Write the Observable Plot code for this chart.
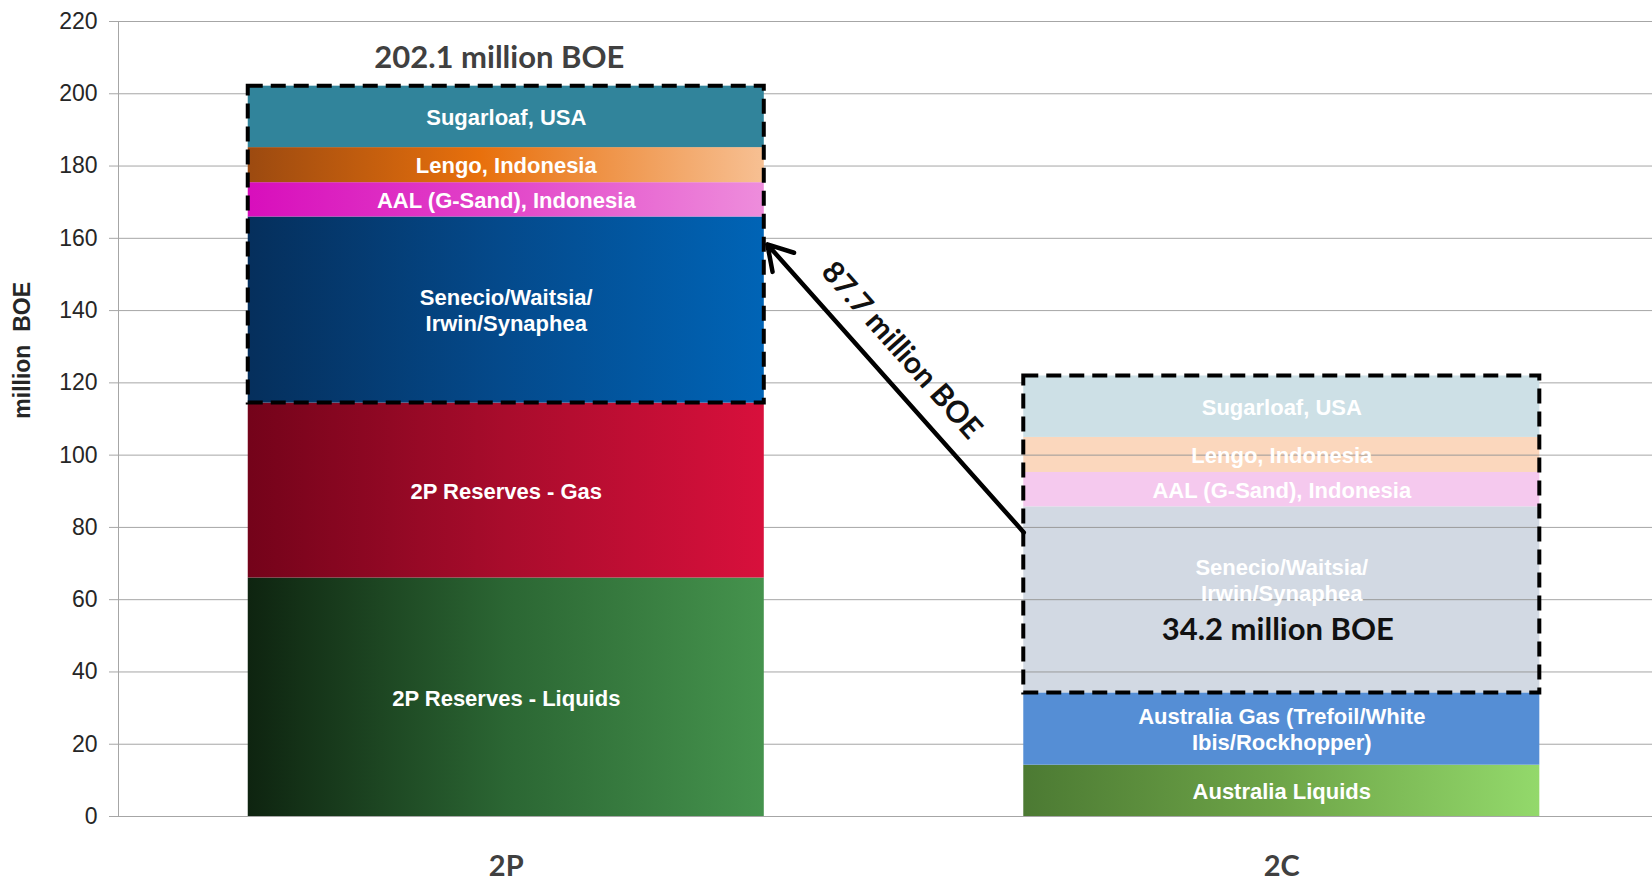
<!DOCTYPE html>
<html>
<head>
<meta charset="utf-8">
<script src="https://cdn.jsdelivr.net/npm/d3@7"></script>
<script src="https://cdn.jsdelivr.net/npm/@observablehq/plot@0.6"></script>
<style>
  html, body { margin: 0; padding: 0; background: #fff; }
  #chart svg { display: block; }
  #chart text { white-space: pre; }
</style>
</head>
<body>
<div id="chart"></div>
<script>
// Reserves (2P) and contingent resources (2C), million BOE, stacked bottom to top
const categories = ["2P", "2C"];

const labels2P = [
  "2P Reserves - Liquids",
  "2P Reserves - Gas",
  "Senecio/Waitsia/\nIrwin/Synaphea",
  "AAL (G-Sand), Indonesia",
  "Lengo, Indonesia",
  "Sugarloaf, USA"
];
const values2P = [66.0, 48.4, 51.5, 9.5, 9.7, 17.0];

const labels2C = [
  "Australia Liquids",
  "Australia Gas (Trefoil/White\nIbis/Rockhopper)",
  "Senecio/Waitsia/\nIrwin/Synaphea",
  "AAL (G-Sand), Indonesia",
  "Lengo, Indonesia",
  "Sugarloaf, USA"
];
const values2C = [14.2, 20.0, 51.5, 9.5, 9.7, 17.0];

// the top four segments of each bar are the volumes moved from 2C into 2P
const convertedCount = 4;

const yTicks = [0, 20, 40, 60, 80, 100, 120, 140, 160, 180, 200, 220];

// segment fills (gradients are defined below and attached to the svg)
const fills2P = ["url(#g-liq2p)", "url(#g-gas2p)", "url(#g-sen)", "url(#g-aal)", "url(#g-lengo)", "#31849b"];
const fills2C = ["url(#g-liq2c)", "#558ed5", "#d2d9e3", "#f5c9ee", "#fbd7bd", "#cde0e6"];
// label lift (in million BOE) so the faded Senecio label clears the 2C total
const labelLift2C = [0, 0, 5.6, 0, 0, 0];

const halfWidth = 0.3327;   // half bar width in x units (bars centred on 0 and 1)

function stackBar(pos, labels, values, fills, lifts) {
  let y = 0;
  return values.map((v, i) => {
    const seg = {pos, label: labels[i], y1: y, y2: y + v, fill: fills[i], lift: lifts ? lifts[i] : 0};
    y += v;
    return seg;
  });
}

const seg2P = stackBar(0, labels2P, values2P, fills2P);
const seg2C = stackBar(1, labels2C, values2C, fills2C, labelLift2C);
const segments = [...seg2P, ...seg2C];

const converted = d3.sum(values2P.slice(-convertedCount));
const total2P = d3.sum(values2P);
const remaining2C = d3.sum(values2C.slice(0, values2C.length - convertedCount));

const boxes = [
  {pos: 0, y1: total2P - converted, y2: total2P},
  {pos: 1, y1: remaining2C, y2: remaining2C + converted}
];

// arrow from the 2C box to the 2P box
const arrowSpec = [{x1: 1 - halfWidth, y1: 78.6, x2: halfWidth + 0.004, y2: 158.3}];
const arrowMid = {x: (arrowSpec[0].x1 + arrowSpec[0].x2) / 2, y: (arrowSpec[0].y1 + arrowSpec[0].y2) / 2};

const fmt = v => `${v.toFixed(1)} million BOE`;
const sansBold = "Lato, 'Open Sans', sans-serif";
const arial = "'Liberation Sans', Arial, sans-serif";

const chart = Plot.plot({
  width: 1652,
  height: 881,
  marginTop: 21,
  marginBottom: 65,
  marginLeft: 118,
  marginRight: 0,
  x: {domain: [-0.5, 1.478], axis: null},
  y: {domain: [0, 220], axis: null},
  color: {type: "identity"},
  style: {fontFamily: arial, background: "#fff"},
  marks: [
    Plot.ruleY(yTicks, {stroke: "#a6a6a6", strokeWidth: 1}),
    Plot.ruleX([-0.5], {stroke: "#a6a6a6", strokeWidth: 1}),
    Plot.rect(segments, {
      x1: d => d.pos - halfWidth,
      x2: d => d.pos + halfWidth,
      y1: "y1",
      y2: "y2",
      fill: "fill"
    }),
    // grid shows through the lighter 2C segments
    Plot.ruleY(yTicks.filter(t => t > remaining2C && t <= 100), {
      x1: () => 1 - halfWidth,
      x2: () => 1 + halfWidth,
      stroke: "#9a9a9a",
      strokeWidth: 1
    }),
    Plot.text(segments, {
      x: "pos",
      y: d => (d.y1 + d.y2) / 2 + d.lift,
      text: "label",
      fill: "white",
      fontWeight: "bold",
      fontSize: 22,
      lineHeight: 1.18,
      fontFamily: arial
    }),
    Plot.rect(boxes, {
      x1: d => d.pos - halfWidth,
      x2: d => d.pos + halfWidth,
      y1: "y1",
      y2: "y2",
      fill: "none",
      stroke: "black",
      strokeWidth: 4,
      strokeDasharray: "15,8"
    }),
    Plot.text([total2P], {
      x: 0,
      y: d => d,
      dx: -7,
      dy: -28,
      text: d => fmt(d),
      fill: "#404040",
      fontWeight: "bold",
      fontSize: 31,
      fontFamily: sansBold
    }),
    Plot.text([remaining2C], {
      x: 1,
      y: d => d,
      dx: -4,
      dy: -63,
      text: d => fmt(d),
      fill: "#111",
      fontWeight: "bold",
      fontSize: 31,
      fontFamily: sansBold
    }),
    Plot.arrow(arrowSpec, {
      x1: "x1", y1: "y1", x2: "x2", y2: "y2",
      stroke: "black",
      strokeWidth: 4.5,
      headLength: 9.3,
      headAngle: 62
    }),
    Plot.text([converted], {
      x: () => arrowMid.x,
      y: () => arrowMid.y,
      dx: 6,
      dy: -38,
      rotate: 48.5,
      text: d => fmt(d),
      fill: "#111",
      fontWeight: "bold",
      fontSize: 30,
      fontFamily: sansBold
    }),
    Plot.axisY({
      ticks: yTicks,
      tickSize: 9,
      tickPadding: 12,
      fontSize: 23,
      fontFamily: arial,
      stroke: "#a6a6a6",
      fill: "#262626",
      label: null
    }),
    Plot.axisX({
      ticks: [0, 1],
      tickFormat: i => categories[i],
      tickSize: 0,
      tickPadding: 39,
      fontSize: 29,
      fontFamily: sansBold,
      fontWeight: "bold",
      fill: "#404040",
      label: null
    }),
    Plot.text(["million  BOE"], {
      x: -0.5,
      y: 129,
      dx: -96,
      rotate: -90,
      text: d => d,
      fill: "#262626",
      fontWeight: "bold",
      fontSize: 23,
      fontFamily: arial
    })
  ]
});

// horizontal gradients used by the bar segments
const gradients = [
  {id: "g-liq2p", stops: [[0, "#0e2410"], [0.5, "#2b6633"], [1, "#45934d"]]},
  {id: "g-gas2p", stops: [[0, "#74031a"], [0.5, "#a90c2c"], [1, "#d8103c"]]},
  {id: "g-sen", stops: [[0, "#052f5c"], [0.5, "#044a8c"], [1, "#0064b6"]]},
  {id: "g-aal", stops: [[0, "#d80ebc"], [0.5, "#e246c9"], [1, "#ee8ddc"]]},
  {id: "g-lengo", stops: [[0, "#9c4a10"], [0.45, "#e8700c"], [1, "#f7c093"]]},
  {id: "g-liq2c", stops: [[0, "#4c7a33"], [0.5, "#6ea548"], [1, "#93d96b"]]}
];
const svg = d3.select(chart);
const defs = svg.insert("defs", ":first-child");
for (const g of gradients) {
  const lg = defs.append("linearGradient").attr("id", g.id)
    .attr("x1", 0).attr("y1", 0).attr("x2", 1).attr("y2", 0);
  for (const [o, c] of g.stops) lg.append("stop").attr("offset", o).attr("stop-color", c);
}

document.getElementById("chart").appendChild(chart);
</script>
</body>
</html>
